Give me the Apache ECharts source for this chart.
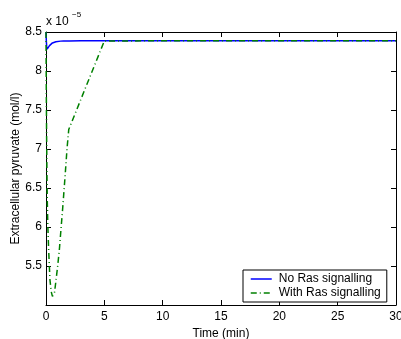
<!DOCTYPE html>
<html>
<head>
<meta charset="utf-8">
<script src="https://cdn.jsdelivr.net/npm/echarts@6/dist/echarts.min.js"></script>
<style>
  html, body { margin: 0; padding: 0; background: #fff; }
  #chart { width: 401px; height: 339px; }
</style>
</head>
<body>
<div id="chart"></div>
<script>
// values in units of 1e-5 mol/l
const timeNoRas = [0, 0.03, 0.06, 0.1, 0.15, 0.2, 0.3, 0.4, 0.55, 0.7, 0.85, 1.0, 1.25, 1.5, 2, 3, 5, 10, 20, 30];
const pyruvateNoRas = [8.5, 8.38, 8.31, 8.28, 8.285, 8.3, 8.325, 8.345, 8.36, 8.37, 8.375, 8.38, 8.383, 8.385, 8.386, 8.387, 8.387, 8.387, 8.387, 8.387];

const timeWithRas = [0, 0.02, 0.05, 0.08, 0.11, 0.16, 0.23, 0.34, 0.45, 0.55, 0.63, 0.72, 0.86, 1.0, 1.14, 1.3, 1.43, 1.63, 1.8, 1.95, 5, 10, 20, 30];
const pyruvateWithRas = [8.5, 7.9, 7.2, 6.7, 6.34, 6.0, 5.7, 5.32, 5.17, 5.11, 5.1, 5.15, 5.32, 5.5, 5.7, 6.0, 6.24, 6.64, 7.0, 7.25, 8.385, 8.387, 8.387, 8.387];

const xTicks = { min: 0, max: 30, step: 5 };
const yTicks = { min: 5, max: 8.5, step: 0.5 };

const FONT = '"Liberation Sans", Arial, Helvetica, sans-serif';
const DASH_DOT = [6, 3, 1, 3];

const chart = echarts.init(document.getElementById('chart'), null, { renderer: 'canvas' });

const axisBase = {
  axisLine: { onZero: false, lineStyle: { color: '#000', width: 1 } },
  axisTick: { inside: true, length: 5, lineStyle: { color: '#000' } },
  splitLine: { show: false },
};

chart.setOption({
  animation: false,
  backgroundColor: '#fff',
  textStyle: { fontFamily: FONT },
  grid: { left: 46, right: 5, top: 32, bottom: 34, outerBoundsMode: 'none', containLabel: false },
  legend: {
    orient: 'vertical',
    left: 243,
    top: 270,
    padding: [3, 6, 3, 7],
    itemGap: 2,
    itemWidth: 21,
    itemHeight: 10,
    borderColor: '#000',
    borderWidth: 1,
    borderRadius: 0,
    backgroundColor: '#fff',
    itemStyle: { opacity: 0 },
    textStyle: { color: '#000', fontSize: 12, fontFamily: FONT, padding: [0, 0, 0, 2] },
    data: [
      { name: 'No Ras signalling', lineStyle: { color: '#0000ff', width: 1.5, type: 'solid' } },
      { name: 'With Ras signalling', lineStyle: { color: '#008000', width: 1.5, type: DASH_DOT } },
    ],
  },
  xAxis: [
    {
      ...axisBase,
      type: 'value',
      position: 'bottom',
      min: xTicks.min, max: xTicks.max, interval: xTicks.step,
      name: 'Time (min)',
      nameLocation: 'middle',
      nameGap: 23,
      nameMoveOverlap: false,
      nameTextStyle: { color: '#000', fontSize: 12, fontFamily: FONT },
      axisLabel: { color: '#000', fontSize: 12, fontFamily: FONT, margin: 6 },
    },
    {
      ...axisBase,
      type: 'value',
      position: 'top',
      min: xTicks.min, max: xTicks.max, interval: xTicks.step,
      axisLabel: { show: false },
    },
  ],
  yAxis: [
    {
      ...axisBase,
      type: 'value',
      position: 'left',
      min: yTicks.min, max: yTicks.max, interval: yTicks.step,
      name: 'Extracellular pyruvate (mol/l)',
      nameLocation: 'middle',
      nameGap: 24,
      nameMoveOverlap: false,
      nameTextStyle: { color: '#000', fontSize: 12, fontFamily: FONT },
      axisLabel: { color: '#000', fontSize: 12, fontFamily: FONT, margin: 4, showMinLabel: false },
    },
    {
      ...axisBase,
      type: 'value',
      position: 'right',
      min: yTicks.min, max: yTicks.max, interval: yTicks.step,
      axisLabel: { show: false },
    },
  ],
  graphic: [
    {
      type: 'text', left: 46, top: 16,
      style: { text: 'x 10', fontSize: 12, fontFamily: FONT, fill: '#000' },
    },
    {
      type: 'text', left: 72, top: 11,
      style: { text: '\u22125', fontSize: 8, fontFamily: FONT, fill: '#000' },
    },
  ],
  series: [
    {
      name: 'No Ras signalling',
      type: 'line',
      showSymbol: false,
      symbol: 'none',
      clip: true,
      lineStyle: { color: '#0000ff', width: 1.5 },
      itemStyle: { color: '#0000ff' },
      data: timeNoRas.map((t, i) => [t, pyruvateNoRas[i]]),
    },
    {
      name: 'With Ras signalling',
      type: 'line',
      showSymbol: false,
      symbol: 'none',
      clip: true,
      lineStyle: { color: '#008000', width: 1.5, type: DASH_DOT },
      itemStyle: { color: '#008000' },
      data: timeWithRas.map((t, i) => [t, pyruvateWithRas[i]]),
    },
  ],
});
</script>
</body>
</html>
